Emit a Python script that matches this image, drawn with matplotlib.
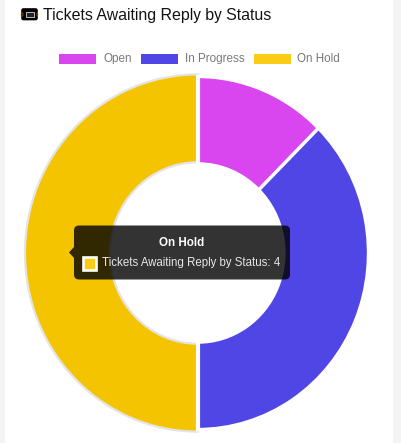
import matplotlib
matplotlib.use("Agg")
import matplotlib.pyplot as plt
from matplotlib.patches import FancyBboxPatch, Rectangle, Polygon

categories = ["Open", "In Progress", "On Hold"]
values = [1, 3, 4]
slice_colors = ["#d946ef", "#4f46e5", "#f5c400"]
legend_colors = ["#d946ef", "#4f46e5", "#facc15"]
title = "Tickets Awaiting Reply by Status"
tooltip_title = "On Hold"
tooltip_body = "Tickets Awaiting Reply by Status: 4"

W, H = 401, 443
plt.rcParams["font.family"] = ["Liberation Sans", "DejaVu Sans"]
plt.rcParams["text.hinting"] = "native"
fig = plt.figure(figsize=(W / 100, H / 100), dpi=100, facecolor="#f3f4f6")

# pixel overlay
bg = fig.add_axes([0, 0, 1, 1], zorder=0)
bg.set_xlim(0, W)
bg.set_ylim(H, 0)
bg.axis("off")
bg.add_patch(Rectangle((5, 0), 388, H, fc="white", ec="none"))

# doughnut
cx0, cx1, cy0, cy1 = 27, 368.5, 76.5, 429.5
ax = fig.add_axes([cx0 / W, 1 - cy1 / H, (cx1 - cx0) / W, (cy1 - cy0) / H], zorder=1)
wedges, _ = ax.pie(values, colors=slice_colors, startangle=90, counterclock=False,
                   radius=1.0,
                   wedgeprops=dict(width=0.495, edgecolor="white", linewidth=2.4))
ax.set_aspect("auto")
ax.set_xlim(-1, 1)
ax.set_ylim(-1, 1)
ax.patch.set_alpha(0)
for c in ax.patches:
    c.set_clip_on(False)
# hovered slice is drawn slightly larger, with a pale outline
w = wedges[2]
w.set_radius(1.012)
w.set_width(0.498)
w.set_edgecolor("#e4e4e4")
w.set_linewidth(1.6)
w.set_zorder(0.5)
# white separators beside hovered slice
ax.plot([0, 0], [-1.03, -0.5], color="white", lw=3.0, zorder=3, solid_capstyle="butt")
ax.plot([0, 0], [0.5, 1.03], color="white", lw=3.0, zorder=3, solid_capstyle="butt")

# overlay
ov = fig.add_axes([0, 0, 1, 1], zorder=2)
ov.set_xlim(0, W)
ov.set_ylim(H, 0)
ov.axis("off")
ov.patch.set_alpha(0)

# title + ticket icon
ov.add_patch(FancyBboxPatch((22, 9), 15, 10.5, boxstyle="round,pad=0,rounding_size=1.5",
                            fc="black", ec="black", lw=1.2))
ov.add_patch(Rectangle((25.5, 11.5), 8, 5.5, fc="#222222", ec="white", lw=0.5))
ov.add_patch(Rectangle((20.8, 12.5), 1.8, 3, fc="black", ec="#f59e0b", lw=0.3))
ov.add_patch(Rectangle((36.6, 12.5), 1.8, 3, fc="black", ec="#f59e0b", lw=0.3))
ov.text(43, 15, title, fontsize=11.45, color="#111111", va="center", ha="left")

# legend
lx = [59, 141, 254]
tx = [103, 185, 297]
for x, t, c, name in zip(lx, tx, legend_colors, categories):
    ov.add_patch(Rectangle((x, 54), 37, 9.7, fc=c, ec="none"))
    ov.text(t, 58.5, name, fontsize=8.35, color="#777777", va="center", ha="left")

# tooltip
ov.add_patch(FancyBboxPatch((74, 225.5), 216, 54, boxstyle="round,pad=0,rounding_size=5",
                            fc=(0, 0, 0, 0.8), ec="none"))
ov.add_patch(Polygon([(74, 247), (69, 252.5), (74, 258)], closed=True, fc=(0, 0, 0, 0.8), ec="none"))
ov.text(181.5, 242.5, tooltip_title, fontsize=8.4, fontweight="bold", color="white",
        va="center", ha="center")
ov.add_patch(Rectangle((83, 257), 12.5, 12.5, fc="#facc15", ec="white", lw=1.9))
ov.text(101.5, 263, tooltip_body, fontsize=8.3, color="white", va="center", ha="left", alpha=0.9)

fig.savefig("out.png", dpi=100, facecolor=fig.get_facecolor())
